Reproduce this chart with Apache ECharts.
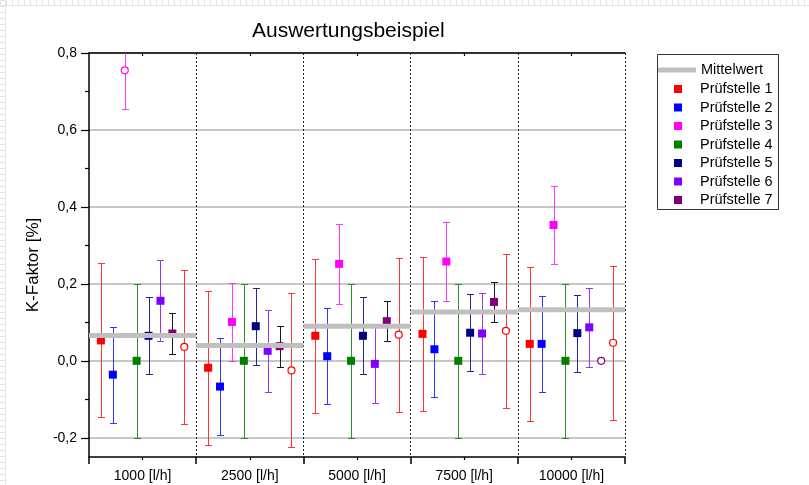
<!DOCTYPE html>
<html>
<head>
<meta charset="utf-8">
<script src="https://cdn.jsdelivr.net/npm/echarts@6/dist/echarts.min.js"></script>
<style>
html,body{margin:0;padding:0;background:#fff}
#c{width:809px;height:485px}
</style>
</head>
<body>
<div id="c"></div>
<script>
// ---------- data ----------
const categories = ['1000 [l/h]', '2500 [l/h]', '5000 [l/h]', '7500 [l/h]', '10000 [l/h]'];
const yTickValues = [-0.2, 0, 0.2, 0.4, 0.6, 0.8];
const mittelwert = [0.066, 0.040, 0.090, 0.127, 0.133];

const p1 = [0.053, -0.018, 0.065, 0.070, 0.044];
const p1Err = [0.2, 0.2, 0.2, 0.2, 0.2];
const p2 = [-0.036, -0.067, 0.012, 0.030, 0.044];
const p2Err = [0.125, 0.126, 0.125, 0.125, 0.125];
const p3 = [0.755, 0.101, 0.252, 0.258, 0.353];
const p3Err = [0.1, 0.101, 0.104, 0.103, 0.102];
const p4 = [0, 0, 0, 0, 0];
const p4Err = [0.2, 0.2, 0.2, 0.2, 0.2];
const p5 = [0.065, 0.090, 0.065, 0.073, 0.072];
const p5Err = [0.1, 0.1, 0.1, 0.1, 0.1];
const p6 = [0.156, 0.026, -0.008, 0.071, 0.087];
const p6Err = [0.105, 0.106, 0.101, 0.104, 0.103];
const p7 = [0.071, 0.038, 0.103, 0.153, 0.0];
const p7Err = [0.053, 0.053, 0.052, 0.053, null];
// second result of Prüfstelle 1 (open red circles, not in legend)
const p1b = [0.036, -0.025, 0.068, 0.078, 0.047];
const p1bErr = [0.2, 0.2, 0.2, 0.2, 0.2];
// values shown as open circles (not used)
const excluded = { 'Prüfstelle 3': [0], 'Prüfstelle 7': [4] };

// ---------- build ----------
const FONT = 'Liberation Sans, Arial, sans-serif';
const SLOTS = 9;
const defs = [
  { name: 'Prüfstelle 1', vals: p1, err: p1Err, color: '#ff0000', bar: '#ff2020', slot: 1 },
  { name: 'Prüfstelle 2', vals: p2, err: p2Err, color: '#0000ff', bar: '#2020ff', slot: 2 },
  { name: 'Prüfstelle 3', vals: p3, err: p3Err, color: '#ff00ff', bar: '#ff20ff', slot: 3 },
  { name: 'Prüfstelle 4', vals: p4, err: p4Err, color: '#008000', bar: '#108a10', slot: 4 },
  { name: 'Prüfstelle 5', vals: p5, err: p5Err, color: '#000080', bar: '#101088', slot: 5 },
  { name: 'Prüfstelle 6', vals: p6, err: p6Err, color: '#8000ff', bar: '#8a20ff', slot: 6 },
  { name: 'Prüfstelle 7', vals: p7, err: p7Err, color: '#800080', bar: '#000000', slot: 7 },
  { name: 'Prüfstelle 1b', vals: p1b, err: p1bErr, color: '#ff0000', bar: '#ff2020', slot: 8, open: true }
];

const series = [];
defs.forEach(d => {
  const errData = [];
  const ptData = [];
  d.vals.forEach((v, g) => {
    const x = g + d.slot / SLOTS;
    if (d.err[g] != null) errData.push([x, v, d.err[g]]);
    const isOpen = d.open || (excluded[d.name] || []).indexOf(g) >= 0;
    ptData.push(isOpen ? {
      value: [x, v], symbol: 'circle', symbolSize: 7,
      itemStyle: { color: '#ffffff', borderColor: d.color, borderWidth: 1.2 }
    } : { value: [x, v] });
  });
  series.push({
    name: d.name + ' err',
    type: 'custom',
    clip: true,
    z: 2,
    silent: true,
    encode: { x: 0, y: 1 },
    data: errData,
    renderItem: (params, api) => {
      const x = api.value(0), y = api.value(1), e = api.value(2);
      const t = api.coord([x, y + e]);
      const b = api.coord([x, y - e]);
      const px = Math.round(t[0]) + 0.5;
      const ty = Math.round(t[1]) + 0.5, by = Math.round(b[1]) + 0.5;
      const hw = 3.5;
      const st = { stroke: d.bar, lineWidth: 1, opacity: 0.9 };
      return {
        type: 'group',
        children: [
          { type: 'line', shape: { x1: px, y1: ty, x2: px, y2: by }, style: st },
          { type: 'line', shape: { x1: px - hw, y1: ty, x2: px + hw, y2: ty }, style: st },
          { type: 'line', shape: { x1: px - hw, y1: by, x2: px + hw, y2: by }, style: st }
        ]
      };
    }
  });
  series.push({
    name: d.name,
    type: 'scatter',
    symbol: 'rect',
    symbolSize: 8,
    z: 3,
    itemStyle: { color: d.color, opacity: 1 },
    data: ptData
  });
});

series.push({
  name: 'Mittelwert',
  type: 'custom',
  z: 4,
  clip: true,
  silent: true,
  itemStyle: { color: '#c0c0c0' },
  encode: { x: 0, y: 1 },
  data: mittelwert.map((m, g) => [g, m]),
  renderItem: (params, api) => {
    const g = api.value(0), m = api.value(1);
    const a = api.coord([g, m]);
    const b = api.coord([g + 1, m]);
    return {
      type: 'line',
      shape: { x1: a[0], y1: a[1], x2: b[0], y2: b[1] },
      style: { stroke: '#c0c0c0', lineWidth: 5, lineCap: 'butt' }
    };
  }
});

const chart = echarts.init(document.getElementById('c'), null, { renderer: 'canvas' });

// decoration: page ruler-like dashed marks and legend frame
const graphics = [
  { type: 'line', silent: true, shape: { x1: 0, y1: 5.5, x2: 809, y2: 5.5 }, style: { stroke: '#e4e4e4', lineWidth: 1 } },
  { type: 'line', silent: true, shape: { x1: 0, y1: 2.5, x2: 809, y2: 2.5 }, style: { stroke: '#e4e4e4', lineWidth: 5, lineDash: [1, 5] } },
  { type: 'line', silent: true, shape: { x1: 5.5, y1: 0, x2: 5.5, y2: 485 }, style: { stroke: '#e4e4e4', lineWidth: 1 } },
  { type: 'line', silent: true, shape: { x1: 2.5, y1: 0, x2: 2.5, y2: 485 }, style: { stroke: '#e4e4e4', lineWidth: 5, lineDash: [1, 5] } },
  { type: 'rect', silent: true, z: 10, shape: { x: 657.5, y: 54.5, width: 121, height: 155 }, style: { fill: 'none', stroke: '#333', lineWidth: 1 } }
];

chart.setOption({
  backgroundColor: '#ffffff',
  animation: false,
  textStyle: { fontFamily: FONT },
  title: {
    text: 'Auswertungsbeispiel',
    left: 252, top: 21, padding: 0,
    textStyle: { fontSize: 21, fontWeight: 'normal', color: '#000', fontFamily: FONT }
  },
  graphic: graphics,
  legend: [
    {
      data: ['Mittelwert'],
      left: 658, top: 62, padding: 0,
      itemWidth: 38, itemHeight: 5,
      icon: 'roundRect',
      selectedMode: false,
      textStyle: { fontSize: 14.5, color: '#000', fontFamily: FONT, lineHeight: 16 }
    },
    {
      data: ['Prüfstelle 1', 'Prüfstelle 2', 'Prüfstelle 3', 'Prüfstelle 4', 'Prüfstelle 5', 'Prüfstelle 6', 'Prüfstelle 7'],
      orient: 'vertical',
      left: 674, top: 81, padding: 0,
      itemWidth: 34, itemHeight: 8, itemGap: 2.5,
      icon: 'path://M0,0h10v10h-10z',
      selectedMode: false,
      textStyle: { fontSize: 14.5, color: '#000', fontFamily: FONT, lineHeight: 16 }
    }
  ],
  grid: { left: 89, top: 53, right: 184, bottom: 28, containLabel: false },
  xAxis: [
    {
      type: 'value', min: 0, max: 5, interval: 1, position: 'bottom',
      axisLine: { show: true, onZero: false, lineStyle: { color: '#000', width: 1.5 } },
      axisTick: { show: true, length: 7, inside: false, lineStyle: { color: '#000', width: 1.5 } },
      minorTick: { show: true, splitNumber: 2, length: 3, lineStyle: { color: '#000', width: 1.2 } },
      axisLabel: { show: false },
      splitLine: { show: true, showMinLine: false, showMaxLine: true, lineStyle: { color: '#222', type: [2, 2], width: 1 } }
    },
    {
      type: 'category', data: categories, position: 'bottom', boundaryGap: true,
      axisLine: { show: false }, axisTick: { show: false },
      axisLabel: { show: true, fontSize: 14, color: '#000', margin: 12, fontFamily: FONT },
      splitLine: { show: false }
    },
    {
      type: 'value', min: 0, max: 5, interval: 1, position: 'top',
      axisLine: { show: true, onZero: false, lineStyle: { color: '#000', width: 1.5 } },
      axisTick: { show: false, inside: true },
      minorTick: { show: true, splitNumber: 2, length: 3, lineStyle: { color: '#000', width: 1.2 } },
      axisLabel: { show: false },
      splitLine: { show: false }
    }
  ],
  yAxis: {
    type: 'value', min: -0.25, max: 0.8,
    name: 'K-Faktor [%]', nameLocation: 'middle', nameGap: 41,
    nameTextStyle: { fontSize: 17, color: '#000', fontFamily: FONT, padding: [0, 20, 0, 0] },
    axisLine: { show: true, onZero: false, lineStyle: { color: '#000', width: 1.5 } },
    axisTick: { show: true, length: 8, inside: false, customValues: yTickValues, lineStyle: { color: '#000', width: 1.2 } },
    minorTick: { show: true, splitNumber: 2, length: 4, lineStyle: { color: '#000', width: 1.2 } },
    axisLabel: {
      customValues: yTickValues, fontSize: 14, color: '#000', margin: 12, fontFamily: FONT,
      formatter: v => (Math.abs(v) < 1e-9 ? 0 : v).toFixed(1).replace('.', ',')
    },
    splitLine: { show: true, lineStyle: { color: '#b4b4b4', width: 1.5 } }
  },
  series: series
});
</script>
</body>
</html>
